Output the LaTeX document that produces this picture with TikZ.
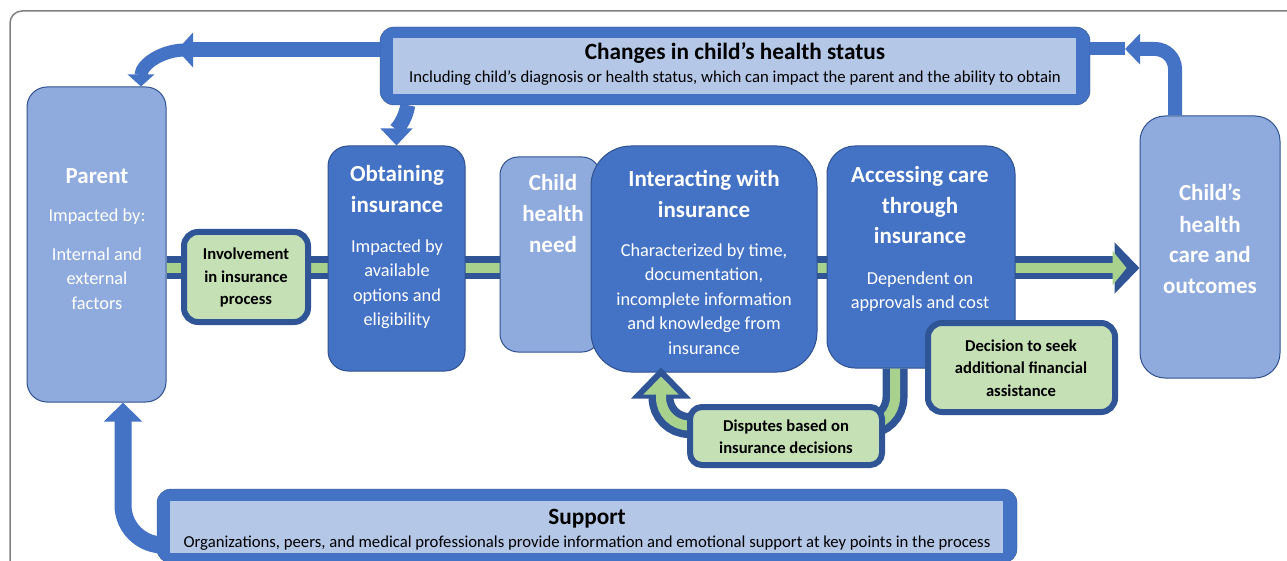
\documentclass[tikz,border=0pt]{standalone}
\usepackage{fontspec}
\setmainfont{Carlito}
\usepackage{tikz}
\usetikzlibrary{arrows.meta,backgrounds}

\definecolor{mblue}{HTML}{4472C4}
\definecolor{lblue}{HTML}{8FAADC}
\definecolor{pale}{HTML}{B4C7E7}
\definecolor{navy}{HTML}{2F5597}
\definecolor{boxedge}{HTML}{2F528F}
\definecolor{lgreen}{HTML}{C5E0B4}
\definecolor{bgreen}{HTML}{A9D18E}
\definecolor{framegray}{HTML}{808080}

\tikzset{
  darkbox/.style={draw=boxedge, line width=1pt, fill=mblue, inner sep=0pt, rounded corners=20pt},
  lightbox/.style={draw=boxedge, line width=1pt, fill=lblue, inner sep=0pt, rounded corners=20pt},
  greenbox/.style={draw=navy, line width=6pt, fill=lgreen, inner sep=0pt, rounded corners=14pt},
  headtxt/.style={text=white, font=\fontsize{23}{30.5}\selectfont\bfseries, align=center, anchor=base, inner sep=0pt},
  bodytxt/.style={text=white, font=\fontsize{18.3}{24.5}\selectfont, align=center, anchor=base, inner sep=0pt},
  greentxt/.style={font=\fontsize{16.6}{22.5}\selectfont\bfseries, align=center, anchor=base, inner sep=0pt},
  titletxt/.style={font=\fontsize{23.3}{26}\selectfont\bfseries, anchor=base, inner sep=0pt},
  subtxt/.style={font=\fontsize{16.7}{18}\selectfont, anchor=base, inner sep=0pt},
  bluearrow/.style={draw=mblue, line width=15pt},
  bandout/.style={draw=navy, line width=23pt},
  bandin/.style={draw=bgreen, line width=10pt}
}

\begin{document}
\begin{tikzpicture}[x=1pt,y=-1pt]
        \useasboundingbox (0,0) rectangle (1287,561);
        % Draw the boxes
        \node[lightbox, minimum width=139pt, minimum height=315pt] (parent) at (96.5,244.5) {};
        \node[darkbox, minimum width=137pt, minimum height=225pt] (obtn) at (396.5,258.5) {};
        \node[lightbox, rounded corners=18pt, minimum width=100pt, minimum height=195pt] (need) at (550,254.5) {};
        \node[darkbox, rounded corners=40pt, minimum width=226pt, minimum height=226pt] (inter) at (704,259) {};
        \node[darkbox, rounded corners=28pt, minimum width=188pt, minimum height=222pt] (accs) at (921,257) {};
        \node[lightbox, rounded corners=25pt, minimum width=140pt, minimum height=262pt] (outc) at (1210,247) {};
        % Draw the banners
        \node[draw=boxedge, fill=mblue, rounded corners=14pt, minimum width=710pt, minimum height=78pt] (chg) at (735,66) {};
        \node[fill=pale, minimum width=683pt, minimum height=56pt] (chgin) at (734.5,66) {};
        \node[draw=boxedge, fill=mblue, rounded corners=14pt, minimum width=860pt, minimum height=74pt] (sup) at (587,526) {};
        \node[fill=pale, minimum width=833pt, minimum height=52pt] (supin) at (586.5,527) {};
        \coordinate (tlhead) at (177,50);
        \coordinate (trhead) at (1125,49);
        \coordinate (bandy) at (0,268);
        % Draw the frame and the main band
        \begin{scope}[on background layer]
        \draw[framegray, line width=1.5pt, rounded corners=12pt] (10,11) rectangle (1330,620);
        \draw[bandout, -{Triangle[length=25pt,width=50pt]}] (parent.east |- bandy) -- (outc.west |- bandy);
        \draw[bandin, shorten >=13pt, -{Triangle[length=14pt,width=34pt]}] (parent.east |- bandy) -- (outc.west |- bandy);
        \end{scope}
        % Draw arrows
        \draw[bluearrow, -{Triangle[length=16pt,width=34pt]}] ([yshift=16pt]chg.west) -- (tlhead);
        \draw[bluearrow, line width=13pt, -{Triangle[length=12pt,width=26pt]}] ([xshift=8pt]tlhead) to[out=180,in=90] ([xshift=44.5pt]parent.north);
        \draw[bluearrow, -{Triangle[length=17pt,width=31pt]}] ([xshift=28pt]chg.south west) to[out=-100,in=90] (obtn.north);
        \draw[bluearrow, line width=14pt, rounded corners=20pt, -{Triangle[length=15pt,width=30pt]}] ([xshift=-35pt]outc.north) |- (trhead);
        \draw[bluearrow, line width=13pt] ([yshift=17pt]chg.east) -- (trhead);
        \draw[bluearrow, line width=17pt, rounded corners=40pt, -{Triangle[length=19pt,width=37pt]}] ([yshift=-19pt]sup.west) -| ([xshift=26.5pt]parent.south);
        % Draw the dispute loop
        \draw[bandout, line width=25pt, rounded corners=28pt, -{Triangle[length=31pt,width=58pt]}] ([xshift=-26pt]accs.south) -- ++(0,57) -| ([xshift=-43pt,yshift=5pt]inter.south);
        \draw[bandin, rounded corners=28pt, shorten >=9pt, -{Triangle[length=18pt,width=34pt]}] ([xshift=-26pt]accs.south) -- ++(0,57) -| ([xshift=-43pt,yshift=5pt]inter.south);
        % Draw the green boxes
        \node[greenbox, minimum width=124pt, minimum height=90pt] (inv) at (246,277) {};
        \node[greenbox, minimum width=187pt, minimum height=89pt] (dec) at (1021.5,367.5) {};
        \node[greenbox, rounded corners=12pt, minimum width=192pt, minimum height=58pt] (disp) at (786,436) {};
        % Texts (placed at the baseline of their last line)
        \node[headtxt] (parenthd) at (97,184) {Parent};
        \node[bodytxt] (parentby) at (97,222) {Impacted by:};
        \node[bodytxt] (parenttx) at (97,309) {Internal and\\external\\factors};
        \node[headtxt] (obtnhd) at (397,212.5) {Obtaining\\insurance};
        \node[bodytxt] (obtntx) at (397,325.5) {Impacted by\\available\\options and\\eligibility};
        \node[headtxt, font=\fontsize{23}{31}\selectfont\bfseries] (needhd) at (553,253) {Child\\health\\need};
        \node[headtxt] (interhd) at (704,217.5) {Interacting with\\insurance};
        \node[bodytxt] (intertx) at (704,354) {Characterized by time,\\documentation,\\incomplete information\\and knowledge from\\insurance};
        \node[headtxt] (accshd) at (920,244) {Accessing care\\through\\insurance};
        \node[bodytxt] (accstx) at (920,308.5) {Dependent on\\approvals and cost};
        \node[headtxt, font=\fontsize{23}{31}\selectfont\bfseries] (outchd) at (1210,294) {Child’s\\health\\care and\\outcomes};
        \node[greentxt] (invtx) at (246,305) {Involvement\\in insurance\\process};
        \node[greentxt] (dectx) at (1021,396) {Decision to seek\\additional financial\\assistance};
        \node[greentxt] (disptx) at (786,453.5) {Disputes based on\\insurance decisions};
        \node[titletxt] (chghd) at (735,60) {Changes in child’s health status};
        \node[subtxt] (chgtx) at (735,83) {Including child’s diagnosis or health status, which can impact the parent and the ability to obtain};
        \node[titletxt] (suphd) at (587,524) {Support};
        \node[subtxt] (suptx) at (587,547) {Organizations, peers, and medical professionals provide information and emotional support at key points in the process};
\end{tikzpicture}
\end{document}
